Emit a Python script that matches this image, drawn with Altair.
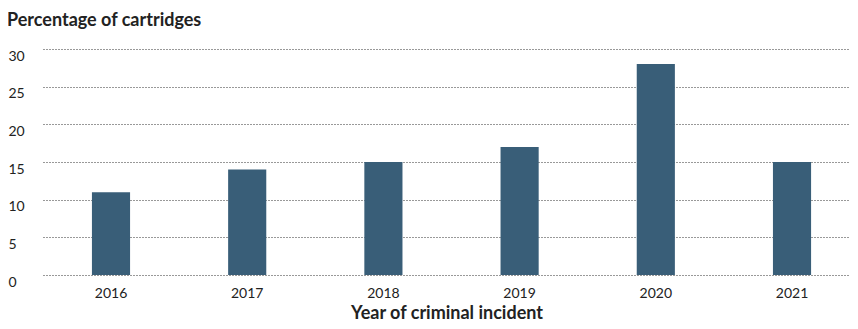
import altair as alt
import pandas as pd

years = ["2016", "2017", "2018", "2019", "2020", "2021"]
values = [11, 14, 15, 17, 28, 15]
y_ticks = [0, 5, 10, 15, 20, 25, 30]

df = pd.DataFrame({"year": years, "pct": values})

FONT = "Lato"

chart = alt.Chart(df).mark_bar(color="#395E78").encode(
    x=alt.X("year:N", sort=years,
            scale=alt.Scale(paddingInner=0.72, paddingOuter=0.3225, align=0.557),
            axis=alt.Axis(title="Year of criminal incident", labelAngle=0,
                          ticks=False, domain=False, grid=False,
                          labelPadding=11, labelFontSize=14, labelColor="#222",
                          labelFont=FONT, titleFont=FONT, titleFontSize=18,
                          titleFontWeight="bold", titleColor="#222",
                          titleBaseline="alphabetic", titleY=43)),
    y=alt.Y("pct:Q", scale=alt.Scale(domain=[0, 30], nice=False),
            axis=alt.Axis(title=None, values=y_ticks, ticks=False, domain=False,
                          grid=True, gridColor="#333", gridDash=[1, 2],
                          gridWidth=1, labelAlign="left", labelPadding=35,
                          labelBaseline="middle", labelOffset=7,
                          labelFontSize=14, labelColor="#222", labelFont=FONT)),
).properties(
    width=807,
    height=226,
    title=alt.TitleParams("Percentage of cartridges", anchor="start", dx=-1,
                          font=FONT, fontSize=18, fontWeight="bold",
                          color="#222", offset=19),
    autosize=alt.AutoSizeParams(type="none"),
    padding={"left": 35, "top": 41, "right": 0, "bottom": 46},
).configure_view(stroke=None)

chart.save("out.html", embed_options={"renderer": "svg", "actions": False})
